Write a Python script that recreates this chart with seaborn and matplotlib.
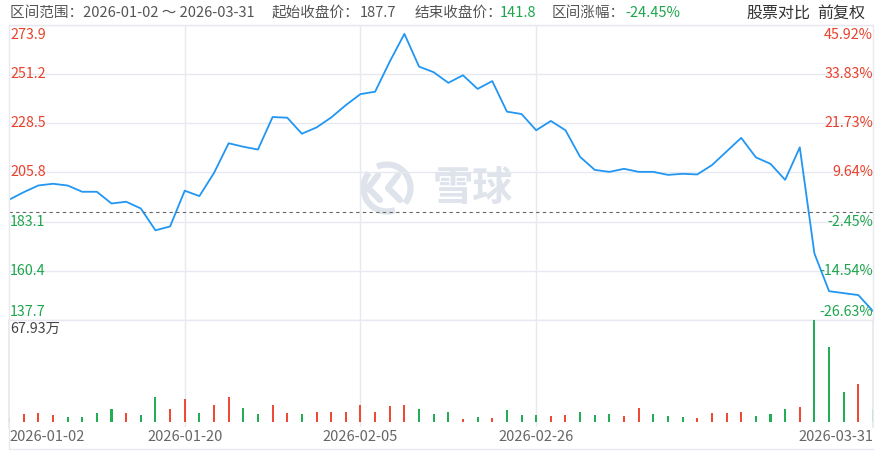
import numpy as np
import pandas as pd
import matplotlib.pyplot as plt
import matplotlib.transforms as mtransforms
from matplotlib.lines import Line2D
from matplotlib.patches import Arc
import seaborn as sns

# trading days (HK calendar, lunar new year closed 02-17..02-19)
trade_days = pd.bdate_range("2026-01-02", "2026-03-31")
trade_days = trade_days[~trade_days.isin(pd.to_datetime(["2026-02-17", "2026-02-18", "2026-02-19"]))]

# close prices
close = [193.2, 196.7, 199.8, 200.6, 199.8, 196.9, 196.9, 191.5, 192.3, 189.2,
         179.1, 180.9, 197.4, 194.9, 205.6, 219.3, 217.7, 216.4, 231.4, 231.1,
         223.7, 226.6, 231.2, 236.9, 242.0, 243.1, 257.0, 269.8, 254.7, 252.1,
         247.2, 250.7, 244.4, 248.0, 233.9, 232.8, 225.3, 229.6, 225.3, 213.0,
         207.0, 206.1, 207.5, 206.1, 206.1, 204.7, 205.2, 204.9, 209.2, 215.5,
         221.8, 212.8, 209.8, 202.4, 217.4, 168.4, 151.0, 150.1, 149.2, 141.8]

# volume in 万
volume = [2.4, 5.5, 6.2, 4.9, 3.5, 3.5, 6.2, 8.5, 6.2, 4.9,
          16.9, 8.5, 15.1, 6.2, 11.1, 16.9, 9.5, 5.5, 11.5, 6.2,
          5.5, 6.9, 6.9, 6.9, 11.1, 6.9, 10.5, 11.5, 8.5, 5.5,
          6.9, 1.8, 3.5, 2.9, 7.8, 4.9, 4.9, 4.2, 4.9, 6.9,
          4.9, 5.5, 4.2, 9.1, 5.5, 4.2, 3.5, 2.9, 6.2, 6.2,
          6.9, 4.2, 5.5, 8.5, 10.2, 67.93, 50.2, 20.2, 25.5, 8.9]

# candle direction for volume colour (u = up/red, d = down/green)
direction = ["u", "u", "u", "u", "d", "d", "d", "d", "u", "d",
             "d", "u", "u", "d", "u", "u", "d", "d", "u", "u",
             "d", "u", "u", "u", "u", "u", "u", "u", "d", "d",
             "d", "u", "d", "u", "d", "d", "d", "u", "u", "d",
             "d", "d", "u", "u", "d", "d", "d", "u", "u", "u",
             "u", "d", "d", "d", "u", "d", "d", "d", "u", "d"]

start_close = 187.7
end_close = 141.8
change_pct = -24.45
price_ticks = [273.9, 251.2, 228.5, 205.8, 183.1, 160.4, 137.7]
pct_ticks = ["45.92%", "33.83%", "21.73%", "9.64%", "-2.45%", "-14.54%", "-26.63%"]
label_idx = [0, 12, 24, 36, 59]

RED = "#e8412c"
GREEN = "#1ea54c"
BAR_RED = "#ee4a36"
BAR_GREEN = "#23ad55"
BLUE = "#2196f3"
GRID = "#e6e9f0"
MARK = "#dfe3eb"

sns.set_theme(style="white")
plt.rcParams["font.family"] = ["Noto Sans CJK SC", "DejaVu Sans"]

W, H = 879, 453
fig = plt.figure(figsize=(W / 100, H / 100), dpi=100)


def box(l, t, r, b):
    return [l / W, 1 - b / H, (r - l) / W, (b - t) / H]


ax = fig.add_axes(box(9, 25, 873, 320))
axv = fig.add_axes(box(9, 320, 873, 427))

idx = np.arange(len(close))
df = pd.DataFrame({"i": idx, "close": close, "vol": volume, "dir": direction})

# watermark (drawn in pixel coords, behind everything)
px = mtransforms.IdentityTransform()
for t1, t2 in [(-40, 115), (140, 290)]:
    fig.add_artist(Arc((387, H - 188), 47, 47, theta1=t1, theta2=t2, transform=px,
                       color=MARK, lw=4.5, zorder=0))
fig.add_artist(Line2D([378, 368, 380], [H - 175, H - 188, H - 200], transform=px,
                      color=MARK, lw=4.5, solid_capstyle="round", zorder=0))
fig.add_artist(Line2D([398, 388, 400], [H - 175, H - 188, H - 200], transform=px,
                      color=MARK, lw=4.5, solid_capstyle="round", zorder=0))
fig.text(473 / W, 1 - 188 / H, "雪球", ha="center", va="center", color=MARK,
         fontsize=29, fontweight="bold", zorder=0)
ax.patch.set_alpha(0)
axv.patch.set_alpha(0)

# price line
sns.lineplot(data=df, x="i", y="close", ax=ax, color=BLUE, lw=1.3)
ax.axhline(start_close, color="#666666", lw=0.8, ls=(0, (3, 3)))
ax.set_xlim(0, len(close) - 1)
ax.set_ylim(price_ticks[-1], price_ticks[0])
ax.set_yticks(price_ticks)
ax.set_xticks(label_idx[1:-1])
ax.grid(True, color=GRID, lw=1)
ax.tick_params(length=0, labelleft=False, labelbottom=False)
ax.set_xlabel("")
ax.set_ylabel("")
for s in ax.spines.values():
    s.set_color(GRID)
    s.set_linewidth(1)

# volume bars
sns.barplot(data=df, x="i", y="vol", hue="dir", palette={"u": BAR_RED, "d": BAR_GREEN},
            dodge=False, width=0.14, saturation=1, linewidth=0, legend=False, ax=axv)
vmax = max(volume)
axv.set_xlim(0, len(close) - 1)
axv.set_ylim(-vmax * 5 / 102, vmax)
axv.set_xticks(label_idx[1:-1])
axv.set_yticks([])
axv.grid(True, axis="x", color=GRID, lw=1)
axv.tick_params(length=0, labelleft=False, labelbottom=False)
axv.set_xlabel("")
axv.set_ylabel("")
for k, s in axv.spines.items():
    s.set_color(GRID)
    s.set_visible(k in ("left", "right"))

# y labels inside plot
tl = mtransforms.blended_transform_factory(fig.transFigure, ax.transData)
n = len(price_ticks)
for k, (p, pct) in enumerate(zip(price_ticks, pct_ticks)):
    col = RED if p > start_close else GREEN
    if k == 0:
        va, dy = "top", -3
    elif k == n - 1:
        va, dy = "bottom", 1
    else:
        va, dy = "center", 0
    tr = mtransforms.offset_copy(tl, fig=fig, y=dy, units="dots")
    ax.text(10 / W, p, f"{p:.1f}", transform=tr, ha="left", va=va, color=col, fontsize=10.3)
    ax.text(873 / W, p, pct, transform=tr, ha="right", va=va, color=col, fontsize=10.3)

fig.text(10 / W, 1 - 329 / H, f"{vmax:.2f}万", ha="left", va="center", color="#444444", fontsize=10.3)

# x labels
txl = mtransforms.blended_transform_factory(axv.transData, fig.transFigure)
for j in label_idx:
    ha = "left" if j == 0 else ("right" if j == len(close) - 1 else "center")
    axv.text(j, 1 - 437 / H, trade_days[j].strftime("%Y-%m-%d"), transform=txl,
             ha=ha, va="center", color="#666666", fontsize=10.5)

# frame lines below the volume panel
fig.add_artist(Line2D([9 / W, 873 / W], [1 - 449 / H] * 2, color=GRID, lw=1))
fig.add_artist(Line2D([9 / W, 9 / W], [1 - 427 / H, 1 - 449 / H], color=GRID, lw=1))

# header
hy = 1 - 13 / H
GRAY = "#555555"
fig.text(10 / W, hy, "区间范围：2026-01-02 ～ 2026-03-31", ha="left", va="center", color=GRAY, fontsize=10.5)
fig.text(272 / W, hy, "起始收盘价：", ha="left", va="center", color=GRAY, fontsize=10.5)
fig.text(360 / W, hy, f"{start_close:.1f}", ha="left", va="center", color=GRAY, fontsize=10.5)
fig.text(415 / W, hy, "结束收盘价：", ha="left", va="center", color=GRAY, fontsize=10.5)
fig.text(500 / W, hy, f"{end_close:.1f}", ha="left", va="center", color=GREEN, fontsize=10.5)
fig.text(552 / W, hy, "区间涨幅：", ha="left", va="center", color=GRAY, fontsize=10.5)
fig.text(625 / W, hy, f"{change_pct:.2f}%", ha="left", va="center", color=GREEN, fontsize=10.5)
fig.text(746 / W, hy, "股票对比", ha="left", va="center", color="#333333", fontsize=11.5)
fig.text(865 / W, hy, "前复权", ha="right", va="center", color="#333333", fontsize=11.5)

fig.savefig("out.png", dpi=100)
